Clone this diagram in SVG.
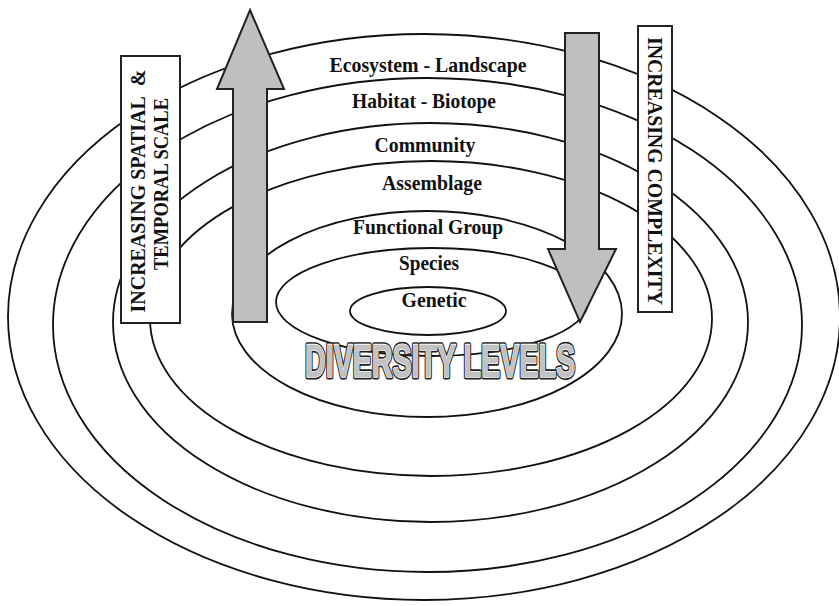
<svg xmlns="http://www.w3.org/2000/svg" width="839" height="606" viewBox="0 0 839 606">
<style>
.ring{fill:none;stroke:#111;stroke-width:1.8}
.lbl{font-family:"Liberation Serif","Times New Roman",serif;font-weight:bold;font-size:21px;fill:#111;text-anchor:middle}
.side{font-family:"Liberation Serif","Times New Roman",serif;font-weight:bold;font-size:21px;fill:#111;text-anchor:middle}
.box{fill:#fff;stroke:#222;stroke-width:2}
.arrow{fill:#bfbfbf;stroke:#222;stroke-width:2;stroke-linejoin:miter}
.dl{font-family:"Liberation Sans",Arial,sans-serif;font-weight:bold;font-size:47px;text-anchor:middle;text-rendering:geometricPrecision}
</style>
<rect width="839" height="606" fill="#fff"/>
<g id="rings">
<ellipse id="ring-ecosystem" class="ring" cx="424" cy="317" rx="416" ry="283"/>
<ellipse id="ring-habitat" class="ring" cx="427.5" cy="325" rx="374.5" ry="247"/>
<ellipse id="ring-community" class="ring" cx="430.5" cy="322.5" rx="317.5" ry="199.5"/>
<ellipse id="ring-assemblage" class="ring" cx="431" cy="318.5" rx="281" ry="157.5"/>
<ellipse id="ring-functional" class="ring" cx="427" cy="314" rx="195" ry="103"/>
<ellipse id="ring-species" class="ring" cx="432" cy="302" rx="156" ry="54"/>
<ellipse id="ring-genetic" class="ring" cx="428" cy="311" rx="78" ry="24"/>
</g>
<g id="box-spatial">
<rect class="box" x="121" y="56" width="59" height="267"/>
<text class="side" transform="translate(145,191) rotate(-90)" textLength="243" lengthAdjust="spacingAndGlyphs">INCREASING SPATIAL&#160;&#160;&amp;</text>
<text class="side" transform="translate(168,184) rotate(-90)" textLength="172" lengthAdjust="spacingAndGlyphs">TEMPORAL SCALE</text>
</g>
<g id="box-complexity">
<rect class="box" x="638" y="26" width="34" height="286"/>
<text class="side" transform="translate(648,171) rotate(90)" textLength="268" lengthAdjust="spacingAndGlyphs">INCREASING COMPLEXITY</text>
</g>
<g id="connectors">
<polygon id="arrow-up" class="arrow" points="250,10 284,89 267,89 267,322 233,322 233,89 217,89"/>
<polygon id="arrow-down" class="arrow" points="565,33 599,33 599,249 616,249 580,322 548,249 565,249"/>
</g>
<g id="labels">
<text class="lbl" x="428" y="72" textLength="197" lengthAdjust="spacingAndGlyphs">Ecosystem - Landscape</text>
<text class="lbl" x="424" y="108" textLength="144" lengthAdjust="spacingAndGlyphs">Habitat - Biotope</text>
<text class="lbl" x="425" y="152" textLength="101" lengthAdjust="spacingAndGlyphs">Community</text>
<text class="lbl" x="432" y="190" textLength="100" lengthAdjust="spacingAndGlyphs">Assemblage</text>
<text class="lbl" x="428" y="234" textLength="150" lengthAdjust="spacingAndGlyphs">Functional Group</text>
<text class="lbl" x="429" y="270" textLength="60" lengthAdjust="spacingAndGlyphs">Species</text>
<text class="lbl" x="434" y="307" textLength="65" lengthAdjust="spacingAndGlyphs">Genetic</text>
</g>
<g id="title">
<text class="dl" x="440" y="377" textLength="270" lengthAdjust="spacingAndGlyphs" fill="none" stroke="#222" stroke-width="5" stroke-linejoin="round">DIVERSITY LEVELS</text>
<text class="dl" x="440" y="377" textLength="270" lengthAdjust="spacingAndGlyphs" fill="#c2c2c2" stroke="#fff" stroke-width="1.6" stroke-linejoin="round" paint-order="stroke">DIVERSITY LEVELS</text>
</g>
</svg>
